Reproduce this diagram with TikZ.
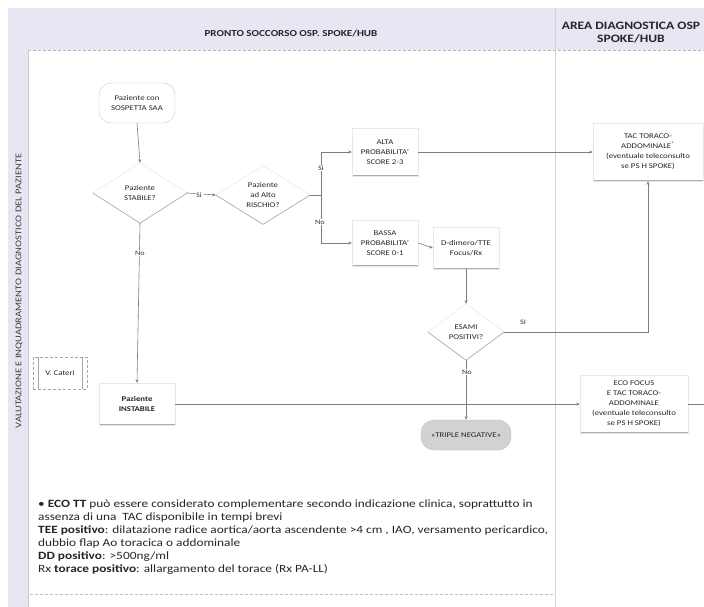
\documentclass[tikz,border=0pt]{standalone}
\usepackage{fontspec}
\setmainfont{Carlito}[FakeStretch=1.2]
\usetikzlibrary{shapes.geometric,arrows.meta,calc}
\definecolor{lav}{RGB}{231,231,243}
\definecolor{ln}{RGB}{125,125,135}
\begin{document}
\begin{tikzpicture}[x=1pt,y=-1pt,
 conn/.style={draw=ln, line width=0.6pt, -{Stealth[length=3.5pt,width=3pt]}},
 plain/.style={draw=ln, line width=0.6pt},
 txt/.style={font=\fontsize{7.3}{10}\selectfont, text=black!85, align=center},
 procbox/.style={txt, rectangle, fill=white, draw=gray!18, inner sep=2pt,
   path picture={\draw[gray!65, line width=1.6pt] (path picture bounding box.south west) -- (path picture bounding box.south east);}},
 decision/.style={txt, diamond, draw=none, inner sep=0pt},
 lbl/.style={font=\fontsize{6.8}{8}\selectfont, text=black!80, fill=white, inner sep=1pt},
 title/.style={font=\bfseries\fontsize{9.2}{11}\selectfont, text=black!85, align=center}]
\useasboundingbox (0,0) rectangle (704,607);
\fill[white] (0,0) rectangle (704,607);
% swimlane frame
\fill[lav] (8,8) rectangle (704,50);
\fill[lav] (8,8) rectangle (28,607);
\draw[ln!60, densely dashed] (28,50) -- (704,50);
\draw[ln!35] (555,8) -- (555,607);
\draw[ln!40] (28,50) -- (28,607);
\draw[ln!50, densely dashed] (30,594) -- (555,594);
\node[title] (t1) at (291,33) {PRONTO SOCCORSO OSP. SPOKE/HUB};
\node[title, font=\bfseries\fontsize{11.3}{13}\selectfont] (t2) at (631,33) {AREA DIAGNOSTICA OSP\\SPOKE/HUB};
\node[rotate=90, font=\fontsize{8.8}{10}\selectfont, text=black!75] (vt) at (19,291) {VALUTAZIONE E INQUADRAMENTO DIAGNOSTICO DEL PAZIENTE};
% nodes
\node[txt, draw=gray!45, rounded corners=12pt, minimum width=76pt, minimum height=40pt, fill=white] (sosp) at (137,103) {Paziente con\\SOSPETTA SAA};
\node[decision, minimum width=94pt, minimum height=60pt] (stab) at (140,193) {Paziente\\STABILE?};
\node[decision, minimum width=94pt, minimum height=58pt] (risk) at (263,195) {Paziente\\ad Alto\\RISCHIO?};
\node[procbox, minimum width=66pt, minimum height=48pt] (alta) at (385,152) {ALTA\\PROBABILITA'\\SCORE 2-3};
\node[procbox, minimum width=66pt, minimum height=46pt] (bassa) at (385,243) {BASSA\\PROBABILITA'\\SCORE 0-1};
\node[procbox, minimum width=66pt, minimum height=42pt] (ddim) at (466,248) {D-dimero/TTE\\Focus/Rx};
\node[decision, minimum width=76pt, minimum height=56pt] (esami) at (466,332) {ESAMI\\POSITIVI?};
\node[txt, fill=gray!35, draw=gray!50, rounded corners=13pt, minimum width=90pt, minimum height=30pt] (trip) at (466,435) {«TRIPLE NEGATIVE»};
\node[procbox, minimum width=110pt, minimum height=58pt] (tac) at (648,152) {TAC TORACO-\\ADDOMINALE\textsuperscript{*}\\(eventuale teleconsulto\\se PS H SPOKE)};
\node[procbox, minimum width=108pt, minimum height=58pt] (eco) at (634,404) {ECO FOCUS\\E TAC TORACO-\\ADDOMINALE\\(eventuale teleconsulto\\se PS H SPOKE)};
\node[procbox, minimum width=76pt, minimum height=42pt] (inst) at (137,404) {\textbf{Paziente}\\\textbf{INSTABILE}};
\node[txt, draw=gray!70, densely dashed, fill=white, minimum width=54pt, minimum height=32pt] (vcat) at (60,373) {V. Cateri};
\draw[gray!70] ($(vcat.north west)+(5,0)$) -- ($(vcat.south west)+(5,0)$);
\draw[gray!70] ($(vcat.north east)+(-5,0)$) -- ($(vcat.south east)+(-5,0)$);
% diamond outlines
\foreach \d in {stab,risk,esami}{
  \draw[gray!22] (\d.west) -- (\d.north) -- (\d.east);
  \draw[gray!65, line width=0.7pt] (\d.west) -- (\d.south) -- (\d.east);
}
% connectors
\draw[conn] (sosp.south) -- (stab.north);
\draw[conn] (stab.east) -- (risk.west);
\node[lbl] (lsi1) at (199,195) {Si};
\coordinate (j1) at (321,195);
\draw[plain] (risk.east) -- (j1);
\draw[conn] (j1) |- (alta.west);
\draw[conn] (j1) |- (bassa.west);
\node[lbl] (lsi2) at (321,168) {Si};
\node[lbl] (lno1) at (320,222) {No};
\draw[conn] (bassa.east) -- (ddim.west);
\draw[conn] (ddim.south) -- (esami.north);
\draw[conn] (esami.south) -- (trip.north);
\node[lbl] (lno2) at (467,372) {No};
\coordinate (j2) at (tac.south |- esami.east);
\draw[conn] (esami.east) -- (j2) -- (tac.south);
\node[lbl, fill=none] (lsi3) at (523,322) {SI};
\draw[conn] (alta.east) -- (tac.west);
\draw[conn] (stab.south) -- (inst.north);
\node[lbl] (lno3) at (140,253) {No};
\draw[conn] (inst.east) -- (eco.west);
\coordinate (edge) at (704,404);
\draw[plain] (eco.east) -- (edge);
% notes
\node[anchor=north west, align=left, font=\fontsize{11.1}{13}\selectfont, text=black!85, inner sep=0pt] (notes) at (38,500) {%
• \textbf{ECO TT} può essere considerato complementare secondo indicazione clinica, soprattutto in\\
assenza di una\ \ TAC disponibile in tempi brevi\\
\textbf{TEE positivo}: dilatazione radice aortica/aorta ascendente >4 cm , IAO, versamento pericardico,\\
dubbio flap Ao toracica o addominale\\
\textbf{DD positivo}: >500ng/ml\\
Rx \textbf{torace positivo}: allargamento del torace (Rx PA-LL)};
\end{tikzpicture}
\end{document}
